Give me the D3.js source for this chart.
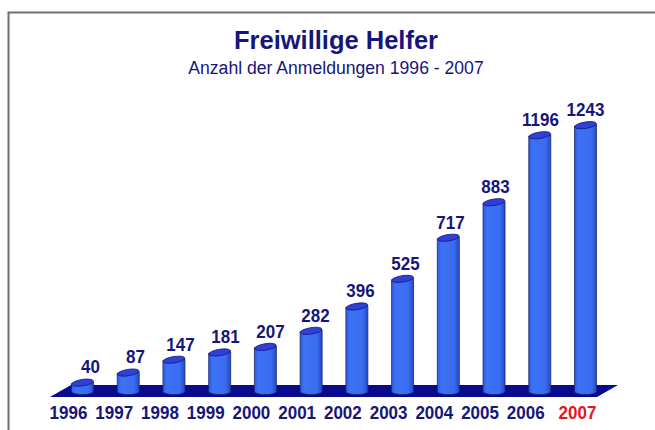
<!DOCTYPE html>
<html>
<head>
<meta charset="utf-8">
<script src="https://cdn.jsdelivr.net/npm/d3@7"></script>
<style>
  body { margin: 0; background: #fff; }
  svg { display: block; font-family: "Liberation Sans", Arial, sans-serif; }
</style>
</head>
<body>
<svg id="chart" width="655" height="430"></svg>
<script>
// data
const years = ["1996", "1997", "1998", "1999", "2000", "2001", "2002", "2003", "2004", "2005", "2006", "2007"];
const helpers = [40, 87, 147, 181, 207, 282, 396, 525, 717, 883, 1196, 1243];
const highlightYear = "2007";

const svg = d3.select("#chart");
const navy = "#16167a";

// frame (only top and left edges show in the picture)
svg.append("path")
  .attr("d", "M8.5,430 L8.5,12.5 L655,12.5")
  .attr("fill", "none")
  .attr("stroke", "#6e6e6e")
  .attr("stroke-width", 2);

// titles
svg.append("text")
  .attr("x", 336).attr("y", 49)
  .attr("text-anchor", "middle")
  .attr("font-size", 25.5).attr("font-weight", "bold")
  .attr("fill", navy)
  .text("Freiwillige Helfer");

svg.append("text")
  .attr("x", 336).attr("y", 74)
  .attr("text-anchor", "middle")
  .attr("font-size", 17.6)
  .attr("fill", navy)
  .text("Anzahl der Anmeldungen 1996 - 2007");

const x = d3.scalePoint().domain(years).range([82.5, 585.5]);
const y = d3.scaleLinear().domain([0, 1243]).range([392, 126]);

// gradient for the cylinders
const defs = svg.append("defs");
const grad = defs.append("linearGradient").attr("id", "cyl").attr("x1", 0).attr("x2", 1);
grad.append("stop").attr("offset", "0%").attr("stop-color", "#2f5ae0");
grad.append("stop").attr("offset", "18%").attr("stop-color", "#3d72f5");
grad.append("stop").attr("offset", "75%").attr("stop-color", "#3a6cf0");
grad.append("stop").attr("offset", "100%").attr("stop-color", "#2446c4");

// floor
const floorLeft = 50, floorRight = 597, floorTop = 385, floorBottom = 397, depth = 21;
svg.append("path")
  .attr("d", `M${floorLeft},${floorBottom} L${floorRight},${floorBottom} L${floorRight + depth},${floorTop} L${floorLeft + depth},${floorTop} Z`)
  .attr("fill", "#0a0a8e");

const rx = 11, ry = 3.2, bottomY = 392;

const bars = svg.append("g").selectAll("g")
  .data(years.map((yr, i) => ({ year: yr, value: helpers[i], i })))
  .join("g");

// body of the cylinder
bars.append("path")
  .attr("d", d => {
    const cx = x(d.year), top = y(d.value);
    return `M${cx - rx},${top} L${cx - rx},${bottomY}` +
      ` A${rx},${ry} 0 0 0 ${cx + rx},${bottomY - 1.5}` +
      ` L${cx + rx},${top - 1.5} Z`;
  })
  .attr("fill", "url(#cyl)")
  .attr("stroke", "#1a2a70")
  .attr("stroke-width", 0.8);

// top cap
bars.append("ellipse")
  .attr("cx", d => x(d.year))
  .attr("cy", d => y(d.value) - 0.8)
  .attr("rx", rx)
  .attr("ry", ry)
  .attr("transform", d => `rotate(-9 ${x(d.year)} ${y(d.value) - 0.8})`)
  .attr("fill", "#2f3fd8")
  .attr("stroke", "#141a7a")
  .attr("stroke-width", 0.8);

// value labels (slightly tall glyphs like the original)
bars.append("text")
  .attr("transform", d => `translate(${x(d.year) + 8 * (1 - d.i / 11)},${y(d.value) - 10}) scale(1,1.08)`)
  .attr("text-anchor", "middle")
  .attr("font-size", 17).attr("font-weight", "bold")
  .attr("fill", navy)
  .text(d => d.value);

// year labels
bars.append("text")
  .attr("transform", d => `translate(${x(d.year) - (d.year === highlightYear ? 8 : 14)},419) scale(1,1.08)`)
  .attr("text-anchor", "middle")
  .attr("font-size", 17).attr("font-weight", "bold")
  .attr("fill", d => d.year === highlightYear ? "#e8141c" : navy)
  .text(d => d.year);
</script>
</body>
</html>
